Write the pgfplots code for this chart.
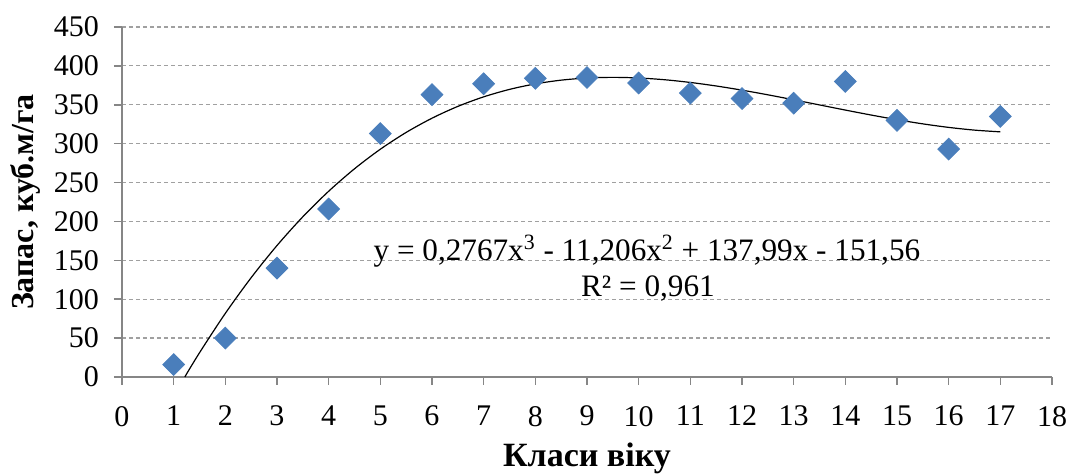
\documentclass[border=0pt]{standalone}
\usepackage{pgfplots}
\pgfplotsset{compat=1.18}
\usepackage{fontspec}
\setmainfont{Liberation Serif}

\definecolor{markblue}{RGB}{74,126,187}
\definecolor{gridgray}{RGB}{160,160,160}
\definecolor{axisgray}{RGB}{134,134,134}

\begin{document}
\begin{tikzpicture}
\useasboundingbox (-61pt,-48.5pt) rectangle (475pt,188.5pt);
\begin{axis}[
  scale only axis,
  width=465pt, height=175pt,
  xmin=0, xmax=18, ymin=0, ymax=450,
  xtick={0,1,...,18},
  ytick={0,50,...,450},
  axis lines=left,
  axis line style={-, draw=axisgray, line width=0.75pt},
  tick align=outside,
  major tick length=4pt,
  tick style={draw=axisgray, line width=0.75pt},
  ymajorgrids,
  grid style={draw=gridgray, line width=0.6pt, dash pattern=on 2pt off 1.5pt},
  /pgf/number format/assume math mode=true,
  tick label style={font=\fontsize{15}{18}\selectfont},
  yticklabel style={xshift=-4pt},
  xticklabel style={yshift=-7pt},
  xlabel={\textbf{Класи віку}},
  ylabel={\textbf{Запас, куб.м/га}},
  label style={font=\fontsize{16}{19}\selectfont},
  xlabel style={font=\fontsize{17}{20}\selectfont, yshift=-1.5pt},
  clip=false,
]
% observed stock by age class
\addplot[only marks, mark=square*, mark size=3.85pt,
  mark options={rotate=45, fill=markblue, draw=markblue}]
coordinates {
(1,16) (2,50) (3,140) (4,216) (5,313) (6,363) (7,377) (8,384) (9,385)
(10,378) (11,365) (12,358) (13,352) (14,380) (15,330) (16,293) (17,335)
};
% cubic trend y = 0.2767x^3 - 11.206x^2 + 137.99x - 151.56
\addplot[black, line width=0.6pt, smooth] coordinates {
(1.215,0) (1.5,31.15) (2,81.81) (2.5,127.70) (3,169.03) (3.5,206.00)
(4,238.81) (4.5,267.69) (5,292.83) (5.5,314.44) (6,332.73) (6.5,347.91)
(7,360.18) (7.5,369.76) (8,376.85) (8.5,381.65) (9,384.38) (9.5,385.24)
(10,384.44) (10.5,382.19) (11,378.69) (11.5,374.16) (12,368.79)
(12.5,362.81) (13,356.41) (13.5,349.80) (14,343.19) (14.5,336.79)
(15,330.80) (15.5,325.44) (16,320.91) (16.5,317.41) (17,315.16)
};
\node[font=\fontsize{15.6}{18}\selectfont, inner sep=0pt] at (axis cs:10.16,162)
  {y = 0,2767x\textsuperscript{3} - 11,206x\textsuperscript{2} + 137,99x - 151,56};
\node[font=\fontsize{15.6}{18}\selectfont, inner sep=0pt] at (axis cs:10.18,114)
  {R² = 0,961};
\end{axis}
\end{tikzpicture}
\end{document}
